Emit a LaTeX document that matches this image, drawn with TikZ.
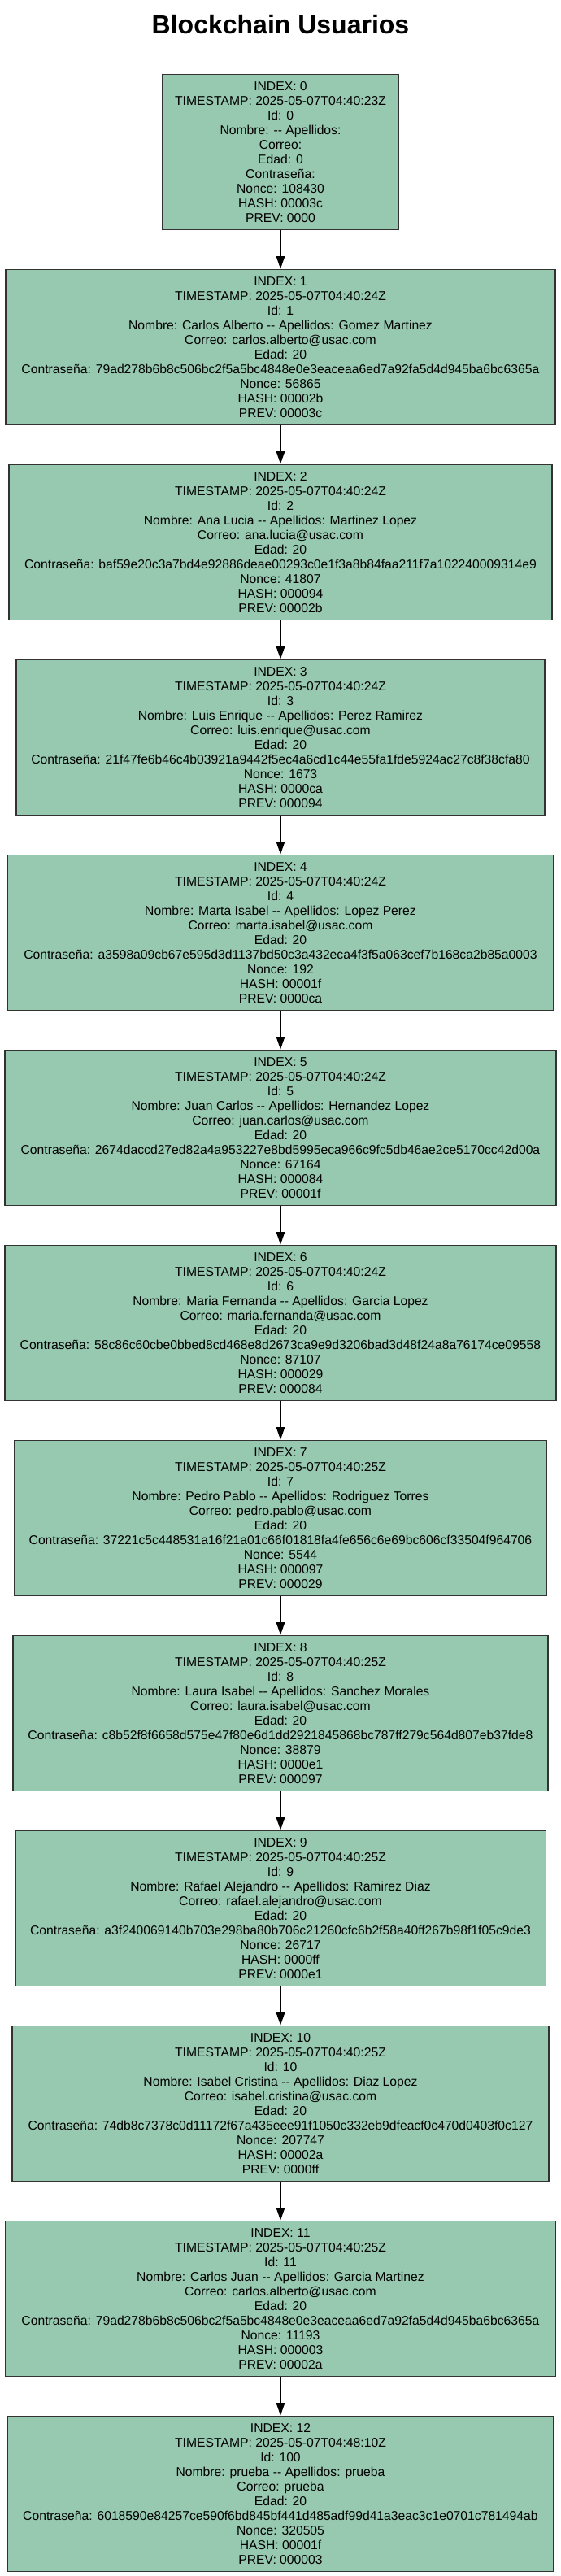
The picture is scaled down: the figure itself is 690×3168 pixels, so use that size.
\documentclass[tikz,border=0pt]{standalone}
\usepackage{fontspec}
\setmainfont{Liberation Sans}
\usetikzlibrary{arrows.meta}
\definecolor{blkfill}{RGB}{150,201,176}
\definecolor{blkdraw}{RGB}{50,50,50}
\newcommand{\dsh}{-\kern0pt-}
\tikzset{
  blk/.style={draw=blkdraw, fill=blkfill, line width=1.5pt, rectangle, anchor=north,
    align=center, minimum height=191pt, inner xsep=2pt, inner ysep=0pt,
    font=\fontsize{15.7}{18}\selectfont},
  arr/.style={draw=black, line width=1.3pt, -{Triangle[length=15.5pt,width=10.5pt]}},
  ttl/.style={anchor=base, font=\fontsize{32}{38}\selectfont\bfseries}
}
\begin{document}
\begin{tikzpicture}[x=1pt,y=-1pt]
\fill[white] (0,0) rectangle (690,3168);
\useasboundingbox (0,0) rectangle (690,3168);
\node[ttl] (title) at (345,42) {Blockchain Usuarios};

\node[blk, minimum width=291.4pt] (b0) at (345,90.6) {INDEX: 0\\TIMESTAMP: 2025-05-07T04:40:23Z\\Id: 0\\Nombre:  \dsh{} Apellidos: \\Correo: \\Edad: 0\\Contraseña: \\Nonce: 108430\\HASH: 00003c\\PREV: 0000};

\node[blk, minimum width=676pt] (b1) at (345,330.6) {INDEX: 1\\TIMESTAMP: 2025-05-07T04:40:24Z\\Id: 1\\Nombre: Carlos Alberto \dsh{} Apellidos: Gomez Martinez\\Correo: carlos.alberto@usac.com\\Edad: 20\\Contraseña: 79ad278b6b8c506bc2f5a5bc4848e0e3eaceaa6ed7a92fa5d4d945ba6bc6365a\\Nonce: 56865\\HASH: 00002b\\PREV: 00003c};

\node[blk, minimum width=668.4pt] (b2) at (345,570.6) {INDEX: 2\\TIMESTAMP: 2025-05-07T04:40:24Z\\Id: 2\\Nombre: Ana Lucia \dsh{} Apellidos: Martinez Lopez\\Correo: ana.lucia@usac.com\\Edad: 20\\Contraseña: baf59e20c3a7bd4e92886deae00293c0e1f3a8b84faa211f7a102240009314e9\\Nonce: 41807\\HASH: 000094\\PREV: 00002b};

\node[blk, minimum width=649.8pt] (b3) at (345,810.6) {INDEX: 3\\TIMESTAMP: 2025-05-07T04:40:24Z\\Id: 3\\Nombre: Luis Enrique \dsh{} Apellidos: Perez Ramirez\\Correo: luis.enrique@usac.com\\Edad: 20\\Contraseña: 21f47fe6b46c4b03921a9442f5ec4a6cd1c44e55fa1fde5924ac27c8f38cfa80\\Nonce: 1673\\HASH: 0000ca\\PREV: 000094};

\node[blk, minimum width=670.8pt] (b4) at (345,1050.6) {INDEX: 4\\TIMESTAMP: 2025-05-07T04:40:24Z\\Id: 4\\Nombre: Marta Isabel \dsh{} Apellidos: Lopez Perez\\Correo: marta.isabel@usac.com\\Edad: 20\\Contraseña: a3598a09cb67e595d3d1137bd50c3a432eca4f3f5a063cef7b168ca2b85a0003\\Nonce: 192\\HASH: 00001f\\PREV: 0000ca};

\node[blk, minimum width=677.8pt] (b5) at (345,1290.6) {INDEX: 5\\TIMESTAMP: 2025-05-07T04:40:24Z\\Id: 5\\Nombre: Juan Carlos \dsh{} Apellidos: Hernandez Lopez\\Correo: juan.carlos@usac.com\\Edad: 20\\Contraseña: 2674daccd27ed82a4a953227e8bd5995eca966c9fc5db46ae2ce5170cc42d00a\\Nonce: 67164\\HASH: 000084\\PREV: 00001f};

\node[blk, minimum width=678.2pt] (b6) at (345,1530.6) {INDEX: 6\\TIMESTAMP: 2025-05-07T04:40:24Z\\Id: 6\\Nombre: Maria Fernanda \dsh{} Apellidos: Garcia Lopez\\Correo: maria.fernanda@usac.com\\Edad: 20\\Contraseña: 58c86c60cbe0bbed8cd468e8d2673ca9e9d3206bad3d48f24a8a76174ce09558\\Nonce: 87107\\HASH: 000029\\PREV: 000084};

\node[blk, minimum width=654.9pt] (b7) at (345,1770.6) {INDEX: 7\\TIMESTAMP: 2025-05-07T04:40:25Z\\Id: 7\\Nombre: Pedro Pablo \dsh{} Apellidos: Rodriguez Torres\\Correo: pedro.pablo@usac.com\\Edad: 20\\Contraseña: 37221c5c448531a16f21a01c66f01818fa4fe656c6e69bc606cf33504f964706\\Nonce: 5544\\HASH: 000097\\PREV: 000029};

\node[blk, minimum width=658.2pt] (b8) at (345,2010.6) {INDEX: 8\\TIMESTAMP: 2025-05-07T04:40:25Z\\Id: 8\\Nombre: Laura Isabel \dsh{} Apellidos: Sanchez Morales\\Correo: laura.isabel@usac.com\\Edad: 20\\Contraseña: c8b52f8f6658d575e47f80e6d1dd2921845868bc787ff279c564d807eb37fde8\\Nonce: 38879\\HASH: 0000e1\\PREV: 000097};

\node[blk, minimum width=652.5pt] (b9) at (345,2250.6) {INDEX: 9\\TIMESTAMP: 2025-05-07T04:40:25Z\\Id: 9\\Nombre: Rafael Alejandro \dsh{} Apellidos: Ramirez Diaz\\Correo: rafael.alejandro@usac.com\\Edad: 20\\Contraseña: a3f240069140b703e298ba80b706c21260cfc6b2f58a40ff267b98f1f05c9de3\\Nonce: 26717\\HASH: 0000ff\\PREV: 0000e1};

\node[blk, minimum width=660pt] (b10) at (345,2490.6) {INDEX: 10\\TIMESTAMP: 2025-05-07T04:40:25Z\\Id: 10\\Nombre: Isabel Cristina \dsh{} Apellidos: Diaz Lopez\\Correo: isabel.cristina@usac.com\\Edad: 20\\Contraseña: 74db8c7378c0d11172f67a435eee91f1050c332eb9dfeacf0c470d0403f0c127\\Nonce: 207747\\HASH: 00002a\\PREV: 0000ff};

\node[blk, minimum width=676.8pt] (b11) at (345,2730.6) {INDEX: 11\\TIMESTAMP: 2025-05-07T04:40:25Z\\Id: 11\\Nombre: Carlos Juan \dsh{} Apellidos: Garcia Martinez\\Correo: carlos.alberto@usac.com\\Edad: 20\\Contraseña: 79ad278b6b8c506bc2f5a5bc4848e0e3eaceaa6ed7a92fa5d4d945ba6bc6365a\\Nonce: 11193\\HASH: 000003\\PREV: 00002a};

\node[blk, minimum width=672.2pt] (b12) at (345,2970.6) {INDEX: 12\\TIMESTAMP: 2025-05-07T04:48:10Z\\Id: 100\\Nombre: prueba \dsh{} Apellidos: prueba\\Correo: prueba\\Edad: 20\\Contraseña: 6018590e84257ce590f6bd845bf441d485adf99d41a3eac3c1e0701c781494ab\\Nonce: 320505\\HASH: 00001f\\PREV: 000003};

\foreach \a/\b in {b0/b1,b1/b2,b2/b3,b3/b4,b4/b5,b5/b6,b6/b7,b7/b8,b8/b9,b9/b10,b10/b11,b11/b12}
  \draw[arr] (\a.south) -- (\b.north);
\end{tikzpicture}
\end{document}
